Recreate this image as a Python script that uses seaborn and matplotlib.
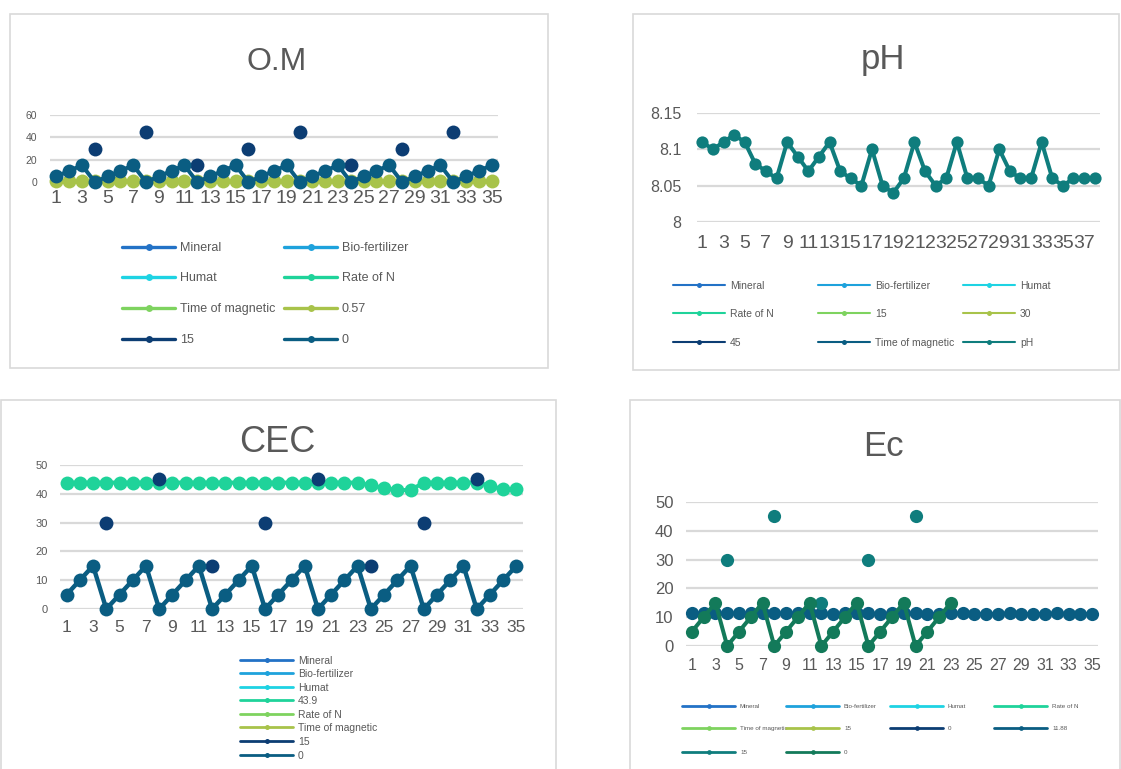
import numpy as np
import matplotlib
matplotlib.use("Agg")
import matplotlib.pyplot as plt
from matplotlib.lines import Line2D
from matplotlib.patches import Rectangle
import seaborn as sns

nan = np.nan

# ---------------- data ----------------
om_x = list(range(1, 36))
om_057 = [0.6, 0.6, 0.7, 0.5, 0.6, 0.6, 0.7, 0.5, 0.6, 0.6, 0.7, 0.5, 0.6, 0.6, 0.7, 0.5, 0.6, 0.6,
          0.7, 0.5, 0.6, 0.6, 0.7, 0.5, 0.6, 0.6, 0.7, 0.5, 0.6, 0.6, 0.7, 0.5, 0.6, 0.6, 0.7]
om_15 = [nan, nan, nan, 30, nan, nan, nan, 45, nan, nan, nan, 15, nan, nan, nan, 30, nan, nan,
         nan, 45, nan, nan, nan, 15, nan, nan, nan, 30, nan, nan, nan, 45, nan, nan, nan]
om_0 = [5, 10, 15, 0, 5, 10, 15, 0, 5, 10, 15, 0, 5, 10, 15, 0, 5, 10,
        15, 0, 5, 10, 15, 0, 5, 10, 15, 0, 5, 10, 15, 0, 5, 10, 15]
om_ticks = [1, 3, 5, 7, 9, 11, 13, 15, 17, 19, 21, 23, 25, 27, 29, 31, 33, 35]
om_yticks = [0, 20, 40, 60]

ph_x = list(range(1, 39))
ph_vals = [8.11, 8.10, 8.11, 8.12, 8.11, 8.08, 8.07, 8.06, 8.11, 8.09, 8.07, 8.09, 8.11, 8.07,
           8.06, 8.05, 8.10, 8.05, 8.04, 8.06, 8.11, 8.07, 8.05, 8.06, 8.11, 8.06, 8.06, 8.05,
           8.10, 8.07, 8.06, 8.06, 8.11, 8.06, 8.05, 8.06, 8.06, 8.06]
ph_ticks = [1, 3, 5, 7, 9, 11, 13, 15, 17, 19, 21, 23, 25, 27, 29, 31, 33, 35, 37]
ph_yticks = [8.0, 8.05, 8.1, 8.15]
ph_ytick_labels = ["8", "8.05", "8.1", "8.15"]

cec_x = list(range(1, 36))
cec_439 = [43.9, 43.9, 43.9, 43.9, 43.9, 43.9, 43.9, 43.9, 43.9, 43.9, 43.9, 43.9, 43.9, 43.9,
           43.9, 43.9, 43.9, 43.9, 43.9, 43.9, 43.9, 43.9, 43.9, 42.9, 42.0, 41.3, 41.3, 43.9,
           43.9, 43.9, 43.9, 43.9, 42.8, 41.5, 41.5]
cec_15 = [nan, nan, nan, 30, nan, nan, nan, 45, nan, nan, nan, 15, nan, nan, nan, 30, nan, nan,
          nan, 45, nan, nan, nan, 15, nan, nan, nan, 30, nan, nan, nan, 45, nan, nan, nan]
cec_0 = [5, 10, 15, 0, 5, 10, 15, 0, 5, 10, 15, 0, 5, 10, 15, 0, 5, 10,
         15, 0, 5, 10, 15, 0, 5, 10, 15, 0, 5, 10, 15, 0, 5, 10, 15]
cec_ticks = [1, 3, 5, 7, 9, 11, 13, 15, 17, 19, 21, 23, 25, 27, 29, 31, 33, 35]
cec_yticks = [0, 10, 20, 30, 40, 50]

ec_x = list(range(1, 36))
ec_1188 = [11.4, 11.3, 11.3, 11.3, 11.3, 11.3, 11.3, 11.3, 11.3, 11.3, 11.3, 11.3, 11.1, 11.3,
           11.3, 11.3, 11.1, 11.3, 11.3, 11.3, 11.1, 11.1, 11.3, 11.3, 11.1, 11.1, 11.1, 11.4,
           11.1, 11.1, 11.1, 11.4, 11.1, 11.1, 11.1]
ec_15 = [nan, nan, nan, 30, nan, nan, nan, 45, nan, nan, nan, 15, nan, nan, nan, 30, nan, nan,
         nan, 45, nan, nan, nan, nan, nan, nan, nan, nan, nan, nan, nan, nan, nan, nan, nan]
ec_0 = [5, 10, 15, 0, 5, 10, 15, 0, 5, 10, 15, 0, 5, 10, 15, 0, 5, 10,
        15, 0, 5, 10, 15, nan, nan, nan, nan, nan, nan, nan, nan, nan, nan, nan, nan]
ec_ticks = [1, 3, 5, 7, 9, 11, 13, 15, 17, 19, 21, 23, 25, 27, 29, 31, 33, 35]
ec_yticks = [0, 10, 20, 30, 40, 50]

om_legend = ["Mineral", "Bio-fertilizer", "Humat", "Rate of N", "Time of magnetic", "0.57", "15", "0"]
ph_legend = ["Mineral", "Bio-fertilizer", "Humat", "Rate of N", "15", "30", "45", "Time of magnetic", "pH"]
cec_legend = ["Mineral", "Bio-fertilizer", "Humat", "43.9", "Rate of N", "Time of magnetic", "15", "0"]
ec_legend = ["Mineral", "Bio-fertilizer", "Humat", "Rate of N", "Time of magnetic", "15", "0",
             "11.88", "15", "0"]

# ---------------- colours ----------------
C_BLUE = "#2372c6"
C_LBLUE = "#1ea2dc"
C_CYAN = "#1ed3e3"
C_MINT = "#1fd39a"
C_LGREEN = "#7ed35f"
C_YGREEN = "#a8c34a"
C_NAVY = "#0c3d73"
C_TBLUE = "#0a5d82"
C_TEAL = "#0f7d7d"
C_GREEN = "#137a5a"
TXT = "#595959"
GRID = "#d9d9d9"

sns.set_style("white")
plt.rcParams["font.family"] = ["Liberation Sans", "DejaVu Sans"]

W, H = 1121, 769
fig = plt.figure(figsize=(W / 100, H / 100), dpi=100)


def add_axes(l, t, r, b):
    return fig.add_axes([l / W, 1 - b / H, (r - l) / W, (b - t) / H])


def style(ax, xticks, yticks, n, ylim, xfs, yfs, xpad, ypad, ylabels=None):
    ax.set_xlim(0.5, n + 0.5)
    ax.set_ylim(*ylim)
    ax.set_xticks(xticks)
    ax.set_yticks(yticks)
    if ylabels is not None:
        ax.set_yticklabels(ylabels)
    for s in ax.spines.values():
        s.set_visible(False)
    ax.grid(axis="y", color=GRID, lw=1.6)
    ax.grid(axis="x", visible=False)
    ax.set_axisbelow(True)
    ax.tick_params(axis="x", length=0, labelsize=xfs, colors=TXT, pad=xpad)
    ax.tick_params(axis="y", length=0, labelsize=yfs, colors=TXT, pad=ypad)
    ax.set_xlabel("")
    ax.set_ylabel("")
    ax.patch.set_alpha(0)


def line(ax, x, y, color, lw, ms, z):
    sns.lineplot(x=x, y=y, ax=ax, color=color, linewidth=lw, marker="o", markersize=ms,
                 markeredgewidth=0, errorbar=None, legend=False, clip_on=False, zorder=z,
                 sort=False)


def dots(ax, x, y, color, ms, z):
    sns.scatterplot(x=x, y=y, ax=ax, color=color, s=ms ** 2, linewidth=0, legend=False,
                    clip_on=False, zorder=z)


def entry(color, label, x_px, y_px, fs, hlen_px, lw, ms):
    h = Line2D([], [], color=color, lw=lw, marker="o", ms=ms, mew=0)
    fs_px = fs * 100 / 72
    fig.legend([h], [label], loc="center left", bbox_to_anchor=(x_px / W, 1 - y_px / H),
               frameon=False, fontsize=fs, handlelength=hlen_px / fs_px,
               handletextpad=5 / fs_px, borderpad=0, borderaxespad=0, labelcolor=TXT)


# panel frames
for (l, t, r, b) in [(10, 14, 548, 368), (633, 14, 1119, 370), (1, 400, 556, 790), (630, 400, 1120, 790)]:
    fig.patches.append(Rectangle((l / W, 1 - b / H), (r - l) / W, (b - t) / H,
                                 transform=fig.transFigure, fill=False, ec=GRID, lw=1.2))

# ---------------- O.M ----------------
ax1 = add_axes(50, 115, 498, 182)
line(ax1, om_x, om_057, C_YGREEN, 2.9, 10, 3)
dots(ax1, om_x, om_15, C_NAVY, 10, 4)
line(ax1, om_x, om_0, C_TBLUE, 2.9, 10, 5)
style(ax1, om_ticks, om_yticks, 35, (0, 60), 14, 7.5, 6, 9)
fig.text(277 / W, 1 - 62 / H, "O.M", ha="center", va="center", fontsize=23, color=TXT)
om_cols = [C_BLUE, C_LBLUE, C_CYAN, C_MINT, C_LGREEN, C_YGREEN, C_NAVY, C_TBLUE]
for i, (lab, c) in enumerate(zip(om_legend, om_cols)):
    entry(c, lab, [122, 284][i % 2], [248, 278, 309, 340][i // 2], 9, 53, 2.4, 5)

# ---------------- pH ----------------
ax2 = add_axes(697, 113, 1100, 222)
line(ax2, ph_x, ph_vals, C_TEAL, 2.9, 8.8, 3)
style(ax2, ph_ticks, ph_yticks, 38, (8.0, 8.15), 14, 11.5, 9, 11, ph_ytick_labels)
fig.text(883 / W, 1 - 60 / H, "pH", ha="center", va="center", fontsize=25, color=TXT)
ph_cols = [C_BLUE, C_LBLUE, C_CYAN, C_MINT, C_LGREEN, C_YGREEN, C_NAVY, C_TBLUE, C_TEAL]
for i, (lab, c) in enumerate(zip(ph_legend, ph_cols)):
    entry(c, lab, [673, 818, 963][i % 3], [286, 314, 343][i // 3], 7.5, 52, 1.5, 3.6)

# ---------------- CEC ----------------
ax3 = add_axes(60, 465, 523, 609)
line(ax3, cec_x, cec_439, C_MINT, 2.9, 10, 3)
dots(ax3, cec_x, cec_15, C_NAVY, 10, 4)
line(ax3, cec_x, cec_0, C_TBLUE, 3.2, 10, 5)
style(ax3, cec_ticks, cec_yticks, 35, (0, 50), 12.5, 8, 8, 9)
fig.text(277 / W, 1 - 442 / H, "CEC", ha="center", va="center", fontsize=26, color=TXT)
cec_cols = [C_BLUE, C_LBLUE, C_CYAN, C_MINT, C_LGREEN, C_YGREEN, C_NAVY, C_TBLUE]
cec_rows = [661, 674, 688, 701, 715, 728, 742, 756]
for i, (lab, c) in enumerate(zip(cec_legend, cec_cols)):
    entry(c, lab, 240, cec_rows[i], 7.5, 53, 2.0, 3.6)

# ---------------- Ec ----------------
ax4 = add_axes(686, 502, 1098, 646)
line(ax4, ec_x, ec_1188, C_TBLUE, 2.9, 9.5, 3)
dots(ax4, ec_x, ec_15, C_TEAL, 9.5, 4)
line(ax4, ec_x, ec_0, C_GREEN, 2.9, 9.5, 5)
style(ax4, ec_ticks, ec_yticks, 35, (0, 50), 11.5, 12, 9, 9)
fig.text(883 / W, 1 - 447 / H, "Ec", ha="center", va="center", fontsize=25, color=TXT)
ec_cols = [C_BLUE, C_LBLUE, C_CYAN, C_MINT, C_LGREEN, C_YGREEN, C_NAVY, C_TBLUE, C_TEAL, C_GREEN]
for i, (lab, c) in enumerate(zip(ec_legend, ec_cols)):
    entry(c, lab, [682, 786, 890, 994][i % 4], [706, 728, 752][i // 4], 4.5, 53, 2.0, 3.4)

fig.savefig("out.png", dpi=100, facecolor="white")
